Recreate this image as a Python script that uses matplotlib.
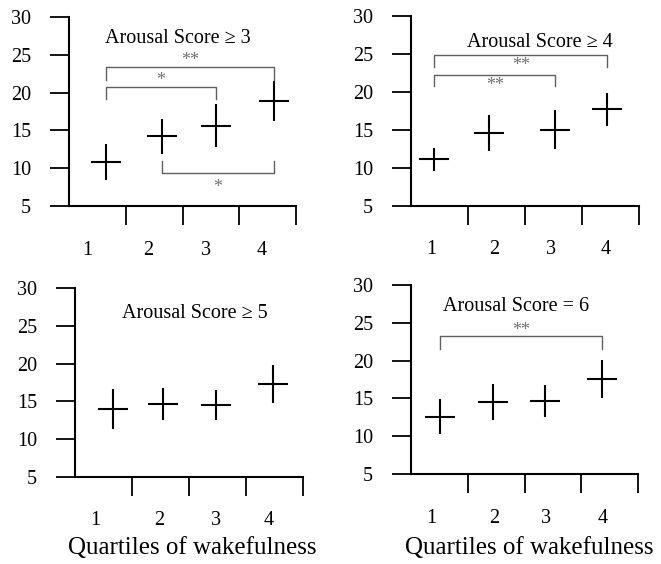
import numpy as np
import matplotlib.pyplot as plt

plt.rcParams['font.family'] = ['Liberation Serif', 'DejaVu Serif']

quartiles = np.array([1, 2, 3, 4])
tick_labels = ['1', '2', '3', '4']
titles = ['Arousal Score \u2265 3', 'Arousal Score \u2265 4',
          'Arousal Score \u2265 5', 'Arousal Score = 6']

# mean and error (half length) per quartile
mean_ge3 = [10.8, 14.2, 15.6, 18.9]
err_ge3 = [2.4, 2.3, 2.85, 2.65]
mean_ge4 = [11.1, 14.6, 15.0, 17.7]
err_ge4 = [1.55, 2.35, 2.55, 2.15]
mean_ge5 = [14.0, 14.65, 14.55, 17.3]
err_ge5 = [2.7, 2.15, 2.0, 2.55]
mean_eq6 = [12.6, 14.55, 14.65, 17.6]
err_eq6 = [2.35, 2.35, 2.15, 2.5]

# significance brackets: (from quartile, to quartile, label)
sig_ge3 = [(1, 4, '**'), (1, 3, '*'), (2, 4, '*')]
sig_ge4 = [(1, 4, '**'), (1, 3, '**')]
sig_ge5 = []
sig_eq6 = [(1, 4, '**')]

means = [mean_ge3, mean_ge4, mean_ge5, mean_eq6]
errs = [err_ge3, err_ge4, err_ge5, err_eq6]
sigs = [sig_ge3, sig_ge4, sig_ge5, sig_eq6]

# layout bits (positions inside each panel)
rects = [[0.1044, 0.6348, 0.3434, 0.3351],
         [0.6218, 0.6353, 0.3449, 0.3363],
         [0.1135, 0.1548, 0.3445, 0.3340],
         [0.6218, 0.1596, 0.3439, 0.3351]]
point_shift = [[-0.35, -0.36, -0.41, -0.39],
               [-0.59, -0.63, -0.47, -0.56],
               [-0.34, -0.46, -0.53, -0.53],
               [-0.49, -0.55, -0.64, -0.64]]
label_shift = [[-0.67, -0.61, -0.59, -0.60],
               [-0.65, -0.54, -0.54, -0.58],
               [-0.64, -0.53, -0.53, -0.60],
               [-0.64, -0.54, -0.63, -0.63]]
title_pos = [(1.92, 26.5), (2.26, 25.9), (2.10, 26.0), (1.84, 26.5)]
# (line y, leg end y, text y) for each bracket
bracket_y = [[(23.4, 21.7, 23.65), (20.7, 19.1, 20.95), (9.37, 10.9, 6.9)],
             [(24.85, 23.3, 22.85), (22.2, 20.8, 20.3)],
             [],
             [(23.2, 21.5, 23.45)]]

fig = plt.figure(figsize=(6.61, 5.64), dpi=100)

for i in range(4):
    ax = fig.add_axes(rects[i])
    xs = quartiles + np.array(point_shift[i])
    ax.errorbar(xs, means[i], yerr=errs[i], fmt='none', ecolor='black',
                elinewidth=1.5, capsize=0)
    ax.plot(xs, means[i], linestyle='none', marker='_', markersize=21,
            markeredgewidth=1.5, color='black')

    for (a, b, lab), (yl, yleg, yt) in zip(sigs[i], bracket_y[i]):
        xa, xb = xs[a - 1], xs[b - 1]
        ax.plot([xa, xa, xb, xb], [yleg, yl, yl, yleg], color='#606060', lw=1.0)
        ax.text((xa + xb) / 2, yt, lab, ha='center', va='baseline',
                fontsize=13, color='#707070')

    tx, ty = title_pos[i]
    ax.text(tx, ty, titles[i], ha='center', va='baseline', fontsize=14.5)

    ax.set_xlim(0, 4)
    ax.set_ylim(5, 30)
    ax.spines['top'].set_visible(False)
    ax.spines['right'].set_visible(False)
    ax.spines['left'].set_linewidth(1.5)
    ax.spines['bottom'].set_linewidth(1.5)
    ax.set_yticks([5, 10, 15, 20, 25, 30])
    ax.set_xticks(quartiles, [])
    ax.set_xticks(quartiles + np.array(label_shift[i]), tick_labels, minor=True)
    ax.tick_params(axis='both', which='major', length=13.7, width=1.3,
                   direction='out', labelsize=14.5)
    ax.tick_params(axis='y', pad=13.5)
    ax.tick_params(axis='x', which='minor', length=0, pad=25, labelsize=14.5)

fig.text(192 / 661, 1 - 548 / 564, 'Quartiles of wakefulness', ha='center',
         va='center', fontsize=18)
fig.text(529.5 / 661, 1 - 548 / 564, 'Quartiles of wakefulness', ha='center',
         va='center', fontsize=18)

fig.savefig('out.png', dpi=100)
